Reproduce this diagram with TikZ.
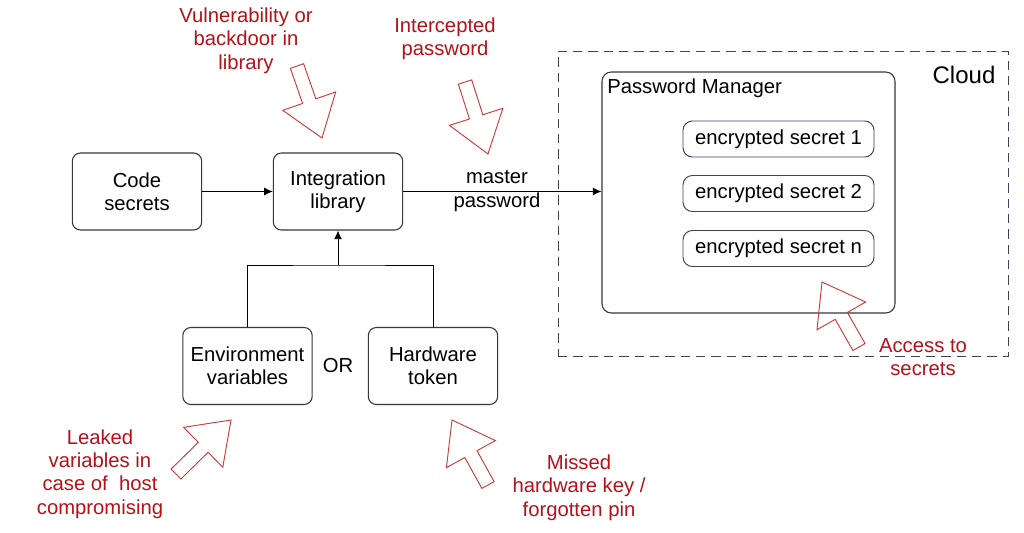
\documentclass[tikz,border=0pt]{standalone}
\usepackage{fontspec}
\setmainfont{Liberation Sans}
\usetikzlibrary{calc,arrows.meta}
\definecolor{riskred}{RGB}{180,18,24}
\definecolor{arrowred}{RGB}{200,60,60}
\definecolor{boxline}{RGB}{55,55,65}
\definecolor{bluegray}{RGB}{60,65,100}
\newcommand\hollowarr[2]{%
  \coordinate (T) at #1; \coordinate (P) at #2;
  \coordinate (B) at ($(P)!29.25pt!(T)$);
  \draw[riskarrow] ($(T)!5.25pt!90:(P)$) -- ($(B)!5.25pt!-90:(T)$) -- ($(B)!21pt!-90:(T)$) -- (P)
    -- ($(B)!21pt!90:(T)$) -- ($(B)!5.25pt!90:(T)$) -- ($(T)!5.25pt!-90:(P)$) -- cycle;}
\begin{document}
\begin{tikzpicture}[x=0.75pt,y=-0.75pt,
  font=\fontsize{15.2}{17.6}\selectfont,
  box/.style={draw=boxline, line width=0.8pt, rounded corners=6pt, align=center, inner sep=0pt,
    minimum width=97pt, minimum height=57.75pt},
  secret/.style={draw=bluegray, line width=0.7pt, rounded corners=7pt, inner sep=0pt,
    minimum width=143.25pt, minimum height=27pt},
  risk/.style={text=riskred, align=center, inner sep=0pt},
  riskarrow/.style={draw=arrowred, line width=0.7pt, line join=miter},
  conn/.style={draw=black, line width=0.7pt, -{Latex[length=6.5pt,width=6pt]}},
  plain/.style={draw=black, line width=0.7pt}]
\useasboundingbox (0,0) rectangle (1024,532);
\fill[white] (0,0) rectangle (1024,532);

% cloud
\node[draw=bluegray, line width=0.65pt, dash pattern=on 7pt off 4.5pt, inner sep=0pt,
  minimum width=337.5pt, minimum height=228.75pt] (cloud) at (783,203.5) {};
\node[font=\fontsize{18}{20}\selectfont, inner sep=0pt] (cloudlbl) at (964,75) {Cloud};

% password manager
\node[draw=boxline, line width=0.8pt, rounded corners=7pt, inner sep=0pt,
  minimum width=219.75pt, minimum height=180.75pt] (pm) at (748.5,192.5) {};
\node[anchor=west, inner sep=0pt] (pmlbl) at (607,88) {Password Manager};
\node[secret] (s1) at (778.5,139) {encrypted secret 1};
\node[secret] (s2) at (778.5,193.5) {encrypted secret 2};
\node[secret] (sn) at (778.5,248.5) {encrypted secret n};

% main boxes
\node[box] (code) at (137,191.5) {Code\\secrets};
\node[box] (integ) at (338,191.5) {Integration\\library};
\node[box] (env) at (247.5,366) {Environment\\variables};
\node[box] (hw) at (433,366) {Hardware\\token};
\node[inner sep=0pt] (or) at (338,366) {OR};
\node[align=center, inner sep=0pt] (mp) at (497,191) {master\\password};

% connectors
\draw[conn] (code) -- (integ);
\draw[conn] (integ.east) -- (integ.east -| pm.west);
\coordinate (join) at (338,265);
\draw[plain] (env.north) |- (join) -| (hw.north);
\draw[conn] (join) -- (integ.south);

% risk labels
\node[risk] (l1) at (246,40.5) {Vulnerability or\\backdoor in\\library};
\node[risk] (l2) at (445,38.5) {Intercepted\\password};
\node[risk] (l3) at (100,474) {Leaked\\variables in\\case of\ \ host\\compromising};
\node[risk] (l4) at (579,487.5) {Missed\\hardware key /\\forgotten pin};
\node[risk] (l5) at (923,357) {Access to\\secrets};

% risk arrows
\hollowarr{(297,66)}{(322,138)}
\hollowarr{(465,82)}{(488,154)}
\hollowarr{(176,474)}{(231,420)}
\hollowarr{(488,485)}{(452,420)}
\hollowarr{(859,347)}{(822,282)}
\end{tikzpicture}
\end{document}
